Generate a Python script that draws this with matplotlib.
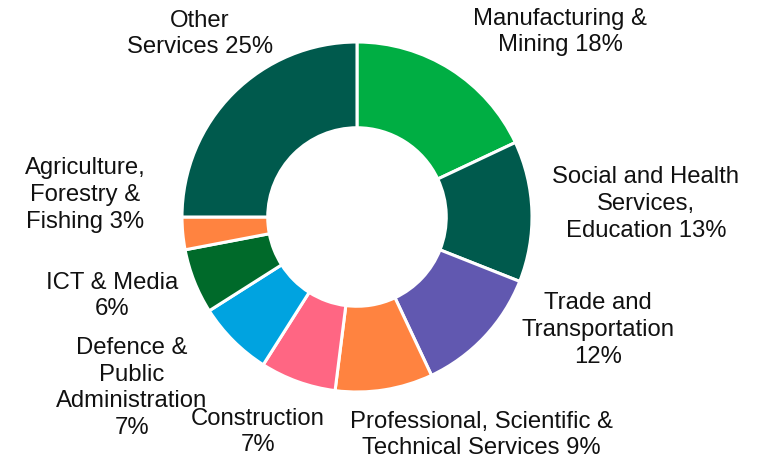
import matplotlib.pyplot as plt

# sectors, clockwise from 12 o'clock
sectors = [
    "Manufacturing &\nMining",
    "Social and Health\nServices,\nEducation",
    "Trade and\nTransportation\n",
    "Professional, Scientific &\nTechnical Services",
    "Construction\n",
    "Defence &\nPublic\nAdministration\n",
    "ICT & Media\n",
    "Agriculture,\nForestry &\nFishing",
    "Other\nServices",
]
shares = [18, 13, 12, 9, 7, 7, 6, 3, 25]
colors = ["#00AE43", "#005A4D", "#6158B0", "#FF8340", "#FF6683",
          "#00A3E0", "#006A2A", "#FF8340", "#005A4D"]

# label centres (data units, radius = 1)
label_pos = [(1.16, 1.057), (1.651, 0.074), (1.377, -0.646), (0.709, -1.246),
             (-0.566, -1.229), (-1.286, -0.977), (-1.40, -0.451),
             (-1.554, 0.126), (-0.897, 1.046)]

plt.rcParams['font.family'] = ['Liberation Sans', 'DejaVu Sans']

W, H = 767, 463
fig = plt.figure(figsize=(W / 100, H / 100), dpi=100)
cx, cy, r = 357, 217, 175
ax = fig.add_axes([(cx - r) / W, (H - cy - r) / H, 2 * r / W, 2 * r / H])

ax.pie(shares, colors=colors, startangle=90, counterclock=False, radius=1,
       wedgeprops=dict(width=0.49, edgecolor="white", linewidth=2.2))
ax.set_xlim(-1, 1)
ax.set_ylim(-1, 1)
ax.set_aspect("equal")
ax.axis("off")

for name, val, (x, y) in zip(sectors, shares, label_pos):
    sep = "" if name.endswith("\n") else " "
    ax.text(x, y, f"{name}{sep}{val}%", ha="center", va="center",
            multialignment="center", fontsize=17.2, linespacing=1.27,
            color="#111111", clip_on=False)

fig.savefig("out.png", dpi=100)
